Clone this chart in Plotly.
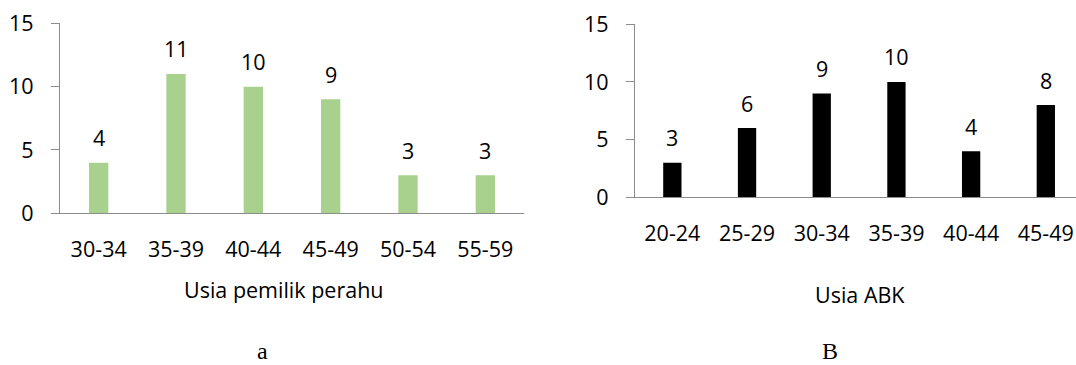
import plotly.graph_objects as go

# Age distribution of boat owners (a) and crew members (b)
owner_ages = ["30-34", "35-39", "40-44", "45-49", "50-54", "55-59"]
owner_counts = [4, 11, 10, 9, 3, 3]

crew_ages = ["20-24", "25-29", "30-34", "35-39", "40-44", "45-49"]
crew_counts = [3, 6, 9, 10, 4, 8]

y_ticks = [0, 5, 10, 15]

FONT = "Open Sans"
AXIS_GREY = "#8c8c8c"
TXT = 21.5
W, H = 1076, 365

fig = go.Figure()

fig.add_trace(go.Bar(
    x=owner_ages, y=owner_counts, width=0.25,
    marker=dict(color="#a9d18e", line=dict(width=0)),
    xaxis="x", yaxis="y", showlegend=False, hoverinfo="x+y",
))
fig.add_trace(go.Bar(
    x=crew_ages, y=crew_counts, width=0.245,
    marker=dict(color="#000000", line=dict(width=0)),
    xaxis="x2", yaxis="y2", showlegend=False, hoverinfo="x+y",
))

annotations = []
# value labels above each bar
for cat, val in zip(owner_ages, owner_counts):
    annotations.append(dict(x=cat, y=val, xref="x", yref="y", text=str(val),
                            showarrow=False, yshift=25, yanchor="middle",
                            font=dict(family=FONT, size=TXT, color="#000")))
for cat, val in zip(crew_ages, crew_counts):
    annotations.append(dict(x=cat, y=val, xref="x2", yref="y2", text=str(val),
                            showarrow=False, yshift=25, yanchor="middle",
                            font=dict(family=FONT, size=TXT, color="#000")))


def px_note(x, y, text, family=FONT, size=TXT, yanchor="middle"):
    """Text placed by pixel position on the page."""
    return dict(x=x / W, y=1 - y / H, xref="paper", yref="paper", text=text,
                showarrow=False, xanchor="center", yanchor=yanchor, borderpad=0,
                font=dict(family=family, size=size, color="#000"))


# axis titles and panel letters
annotations += [
    px_note(284, 289, "Usia pemilik perahu"),
    px_note(860, 294.5, "Usia ABK"),
    px_note(262, 365, "a", family="Liberation Serif", size=24, yanchor="bottom"),
    px_note(829.5, 365, "B", family="Liberation Serif", size=24, yanchor="bottom"),
]

xcommon = dict(showline=True, linecolor=AXIS_GREY, linewidth=1.3, ticks="",
               showgrid=False, zeroline=False, type="category", automargin=False,
               tickfont=dict(family=FONT, size=TXT, color="#000"),
               ticklabelstandoff=17, fixedrange=True)
ycommon = dict(range=[0, 15], tickvals=y_ticks, showline=True, linecolor=AXIS_GREY,
               linewidth=1.3, ticks="outside", ticklen=8, tickcolor=AXIS_GREY,
               tickwidth=1.3, showgrid=False, zeroline=False, automargin=False,
               tickfont=dict(family=FONT, size=TXT, color="#000"),
               ticklabelstandoff=13, fixedrange=True)

fig.update_layout(
    width=W, height=H,
    margin=dict(l=0, r=0, t=0, b=0, autoexpand=False),
    paper_bgcolor="white", plot_bgcolor="white",
    xaxis=dict(domain=[60 / W, 524 / W], anchor="y", range=[-0.5, 5.5], **xcommon),
    yaxis=dict(domain=[1 - 213.3 / H, 1 - 23.3 / H], anchor="x", **ycommon),
    xaxis2=dict(domain=[635 / W, 1], anchor="y2", range=[-0.5, 5.404], **xcommon),
    yaxis2=dict(domain=[1 - 197.3 / H, 1 - 24.3 / H], anchor="x2", **ycommon),
    annotations=annotations,
    bargap=0.75,
)

fig.write_html("out.html", config={"displayModeBar": False})
